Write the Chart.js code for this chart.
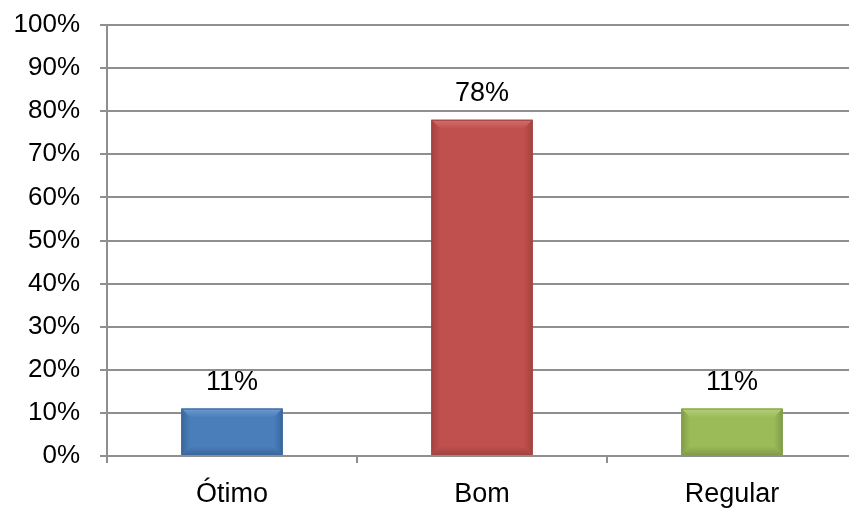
<!DOCTYPE html>
<html><head><meta charset="utf-8">
<script src="https://cdn.jsdelivr.net/npm/chart.js@4"></script>
<style>html,body{margin:0;padding:0;background:#fff;overflow:hidden;width:849px;height:514px}#wrap{width:860px;height:514px;position:relative}</style>
</head><body><div id="wrap"><canvas id="c" width="860" height="514"></canvas></div>
<script>
const categories = ["Ótimo", "Bom", "Regular"];
const values = [11, 78, 11];
const valueLabels = ["11%", "78%", "11%"];
const yTicks = [0,10,20,30,40,50,60,70,80,90,100];
const barColors = ["#4a7ebb", "#c0504d", "#9bbb59"];
const lightColors = ["#6f9ad0", "#d46f6b", "#b3d07a"];
const darkColors = ["#3a679c", "#a34341", "#809c48"];

const FONT = "'Liberation Sans', Arial, sans-serif";

const bevel = {
  id: 'bevel',
  afterDatasetsDraw(chart) {
    const ctx = chart.ctx;
    const meta = chart.getDatasetMeta(0);
    meta.data.forEach((bar, i) => {
      const l = bar.x - bar.width/2, r = bar.x + bar.width/2, t = bar.y, b = bar.base;
      const d = Math.min(9, (b - t)/3);
      ctx.save();
      let g = ctx.createLinearGradient(0, t, 0, t + d);
      g.addColorStop(0, lightColors[i]); g.addColorStop(1, barColors[i]);
      ctx.fillStyle = g;
      ctx.beginPath(); ctx.moveTo(l,t); ctx.lineTo(r,t); ctx.lineTo(r-d,t+d); ctx.lineTo(l+d,t+d); ctx.closePath(); ctx.fill();
      g = ctx.createLinearGradient(l, 0, l + d, 0);
      g.addColorStop(0, darkColors[i]); g.addColorStop(1, barColors[i]);
      ctx.fillStyle = g;
      ctx.beginPath(); ctx.moveTo(l,t); ctx.lineTo(l+d,t+d); ctx.lineTo(l+d,b-d); ctx.lineTo(l,b); ctx.closePath(); ctx.fill();
      g = ctx.createLinearGradient(r, 0, r - d, 0);
      g.addColorStop(0, darkColors[i]); g.addColorStop(1, barColors[i]);
      ctx.fillStyle = g;
      ctx.beginPath(); ctx.moveTo(r,t); ctx.lineTo(r,b); ctx.lineTo(r-d,b-d); ctx.lineTo(r-d,t+d); ctx.closePath(); ctx.fill();
      g = ctx.createLinearGradient(0, b, 0, b - d);
      g.addColorStop(0, darkColors[i]); g.addColorStop(1, barColors[i]);
      ctx.fillStyle = g;
      ctx.beginPath(); ctx.moveTo(l,b); ctx.lineTo(r,b); ctx.lineTo(r-d,b-d); ctx.lineTo(l+d,b-d); ctx.closePath(); ctx.fill();
      ctx.strokeStyle = darkColors[i]; ctx.lineWidth = 1;
      ctx.strokeRect(l+0.5, t+0.5, r-l-1, b-t-1);
      ctx.fillStyle = '#000';
      ctx.font = '27px ' + FONT;
      ctx.textAlign = 'center'; ctx.textBaseline = 'middle';
      ctx.fillText(valueLabels[i], bar.x, t - 26);
      ctx.restore();
    });
  }
};

new Chart(document.getElementById('c'), {
  type: 'bar',
  data: {
    labels: categories,
    datasets: [{ data: values, backgroundColor: barColors, borderWidth: 0, barPercentage: 0.405, categoryPercentage: 1 }]
  },
  options: {
    responsive: false, animation: false,
    layout: { padding: { top: 25, right: 3, left: 0, bottom: 0 } },
    plugins: { legend: { display: false }, tooltip: { enabled: false } },
    scales: {
      y: {
        min: 0, max: 100,
        afterFit(s) { s.width = 107; s.paddingTop = 0; s.paddingBottom = 0; },
        afterBuildTicks(s) { s.ticks = yTicks.map(v => ({ value: v })); },
        ticks: { callback: v => v + '%', font: { size: 26, family: FONT }, color: '#000', padding: 20 },
        grid: { color: '#8f8f8f', lineWidth: 2, tickLength: 7 },
        border: { color: '#8f8f8f', width: 2 }
      },
      x: {
        offset: true,
        afterFit(s) { s.height = 58; s.paddingLeft = 0; s.paddingRight = 0; },
        ticks: { font: { size: 27, family: FONT }, color: '#000', padding: 15 },
        grid: { offset: true, drawOnChartArea: false, color: '#8f8f8f', lineWidth: 2, tickLength: 7 },
        border: { color: '#8f8f8f', width: 2 }
      }
    }
  },
  plugins: [bevel]
});
</script></body></html>
